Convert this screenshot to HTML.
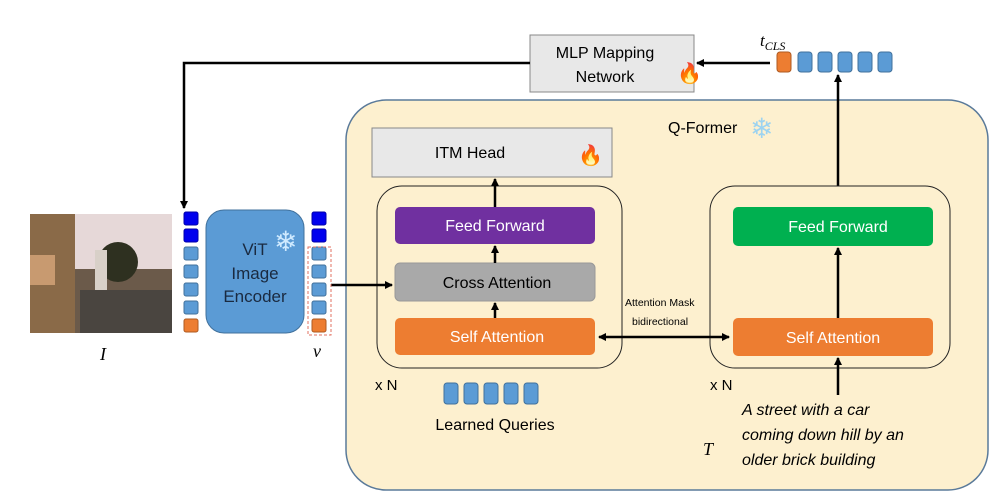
<!DOCTYPE html><html><head><style>body{margin:0;background:#fff}svg{display:block}</style></head><body>
<svg width="990" height="494" viewBox="0 0 990 494" xmlns="http://www.w3.org/2000/svg" font-family="Liberation Sans, sans-serif">
<defs><marker id="a" markerWidth="8" markerHeight="8" refX="7" refY="4" orient="auto" markerUnits="userSpaceOnUse"><path d="M0,0L8,4L0,8z" fill="#000"/></marker>
<marker id="b" markerWidth="8" markerHeight="8" refX="1" refY="4" orient="auto" markerUnits="userSpaceOnUse"><path d="M8,0L0,4L8,8z" fill="#000"/></marker></defs>
<rect x="346" y="100" width="642" height="390" rx="40" fill="#fdf0cf" stroke="#5a7a9a" stroke-width="1.5"/>
<rect x="530" y="35" width="164" height="57" fill="#e8e8e8" stroke="#888"/>
<text x="605" y="58" font-size="16" text-anchor="middle">MLP Mapping</text><text x="605" y="82" font-size="16" text-anchor="middle">Network</text>
<text x="677" y="80" font-size="20">🔥</text>
<polyline points="530,63 184,63 184,208" fill="none" stroke="#000" stroke-width="2.5" marker-end="url(#a)"/>
<line x1="770" y1="63" x2="697" y2="63" stroke="#000" stroke-width="2.5" marker-end="url(#a)"/>
<text x="760" y="46" font-size="17" font-style="italic" font-family="Liberation Serif,serif">t<tspan font-size="12" dy="4">CLS</tspan></text>
<g stroke="#41719c"><rect x="777" y="52" width="14" height="20" rx="3" fill="#ed7d31" stroke="#ae5a21"/><rect x="798" y="52" width="14" height="20" rx="3" fill="#5b9bd5"/><rect x="818" y="52" width="14" height="20" rx="3" fill="#5b9bd5"/><rect x="838" y="52" width="14" height="20" rx="3" fill="#5b9bd5"/><rect x="858" y="52" width="14" height="20" rx="3" fill="#5b9bd5"/><rect x="878" y="52" width="14" height="20" rx="3" fill="#5b9bd5"/></g>
<line x1="838" y1="186" x2="838" y2="75" stroke="#000" stroke-width="2.5" marker-end="url(#a)"/>
<text x="668" y="133" font-size="16">Q-Former</text><text x="750" y="138" font-size="28" fill="#9dd3f0">❄</text>
<rect x="372" y="128" width="240" height="49" fill="#e8e8e8" stroke="#888"/>
<text x="470" y="158" font-size="16" text-anchor="middle">ITM Head</text><text x="578" y="162" font-size="20">🔥</text>
<rect x="377" y="186" width="245" height="182" rx="25" fill="none" stroke="#222"/>
<rect x="710" y="186" width="240" height="182" rx="25" fill="none" stroke="#222"/>
<rect x="395" y="207" width="200" height="37" rx="5" fill="#7030a0"/><text x="495" y="231" font-size="16" text-anchor="middle" fill="#fff">Feed Forward</text>
<rect x="395" y="263" width="200" height="38" rx="5" fill="#a9a9a9" stroke="#999"/><text x="497" y="288" font-size="16" text-anchor="middle">Cross Attention</text>
<rect x="395" y="318" width="200" height="37" rx="5" fill="#ed7d31"/><text x="497" y="342" font-size="16" text-anchor="middle" fill="#fff">Self Attention</text>
<rect x="733" y="207" width="200" height="39" rx="5" fill="#00b050"/><text x="838" y="232" font-size="16" text-anchor="middle" fill="#fff">Feed Forward</text>
<rect x="733" y="318" width="200" height="38" rx="5" fill="#ed7d31"/><text x="833" y="343" font-size="16" text-anchor="middle" fill="#fff">Self Attention</text>
<g stroke="#000" stroke-width="2.5"><line x1="495" y1="318" x2="495" y2="303" marker-end="url(#a)"/><line x1="495" y1="263" x2="495" y2="246" marker-end="url(#a)"/><line x1="495" y1="207" x2="495" y2="179" marker-end="url(#a)"/><line x1="838" y1="318" x2="838" y2="248" marker-end="url(#a)"/><line x1="838" y1="395" x2="838" y2="358" marker-end="url(#a)"/><line x1="599" y1="337" x2="729" y2="337" marker-start="url(#b)" marker-end="url(#a)"/><line x1="331" y1="285" x2="392" y2="285" marker-end="url(#a)"/></g>
<text x="625" y="306" font-size="10.5">Attention Mask</text><text x="632" y="325" font-size="10.5">bidirectional</text>
<text x="375" y="390" font-size="15">x N</text><text x="710" y="390" font-size="15">x N</text>
<g fill="#5b9bd5" stroke="#41719c"><rect x="444" y="383" width="14" height="21" rx="3"/><rect x="464" y="383" width="14" height="21" rx="3"/><rect x="484" y="383" width="14" height="21" rx="3"/><rect x="504" y="383" width="14" height="21" rx="3"/><rect x="524" y="383" width="14" height="21" rx="3"/></g>
<text x="495" y="430" font-size="16" text-anchor="middle">Learned Queries</text>
<g font-size="16" font-style="italic"><text x="742" y="415">A street with a car</text><text x="742" y="440">coming down hill by an</text><text x="742" y="465">older brick building</text></g>
<text x="703" y="455" font-size="18" font-style="italic" font-family="Liberation Serif,serif">T</text>
<rect x="30" y="214" width="142" height="119" fill="#6b5a4a"/><rect x="70" y="214" width="102" height="55" fill="#e6d8d8"/><rect x="30" y="214" width="45" height="119" fill="#8a6a48"/><rect x="30" y="255" width="25" height="30" fill="#c89a70"/><circle cx="118" cy="262" r="20" fill="#2e3020"/><rect x="80" y="290" width="92" height="43" fill="#4a4540"/><rect x="95" y="250" width="12" height="40" fill="#d8d0c8"/>
<g stroke-width="1"><rect x="184" y="212" width="14" height="13" rx="2" fill="#0000ee" stroke="#0000aa"/><rect x="184" y="229" width="14" height="13" rx="2" fill="#0000ee" stroke="#0000aa"/><rect x="184" y="247" width="14" height="13" rx="2" fill="#5b9bd5" stroke="#41719c"/><rect x="184" y="265" width="14" height="13" rx="2" fill="#5b9bd5" stroke="#41719c"/><rect x="184" y="283" width="14" height="13" rx="2" fill="#5b9bd5" stroke="#41719c"/><rect x="184" y="301" width="14" height="13" rx="2" fill="#5b9bd5" stroke="#41719c"/><rect x="184" y="319" width="14" height="13" rx="2" fill="#ed7d31" stroke="#ae5a21"/>
<rect x="312" y="212" width="14" height="13" rx="2" fill="#0000ee" stroke="#0000aa"/><rect x="312" y="229" width="14" height="13" rx="2" fill="#0000ee" stroke="#0000aa"/><rect x="312" y="247" width="14" height="13" rx="2" fill="#5b9bd5" stroke="#41719c"/><rect x="312" y="265" width="14" height="13" rx="2" fill="#5b9bd5" stroke="#41719c"/><rect x="312" y="283" width="14" height="13" rx="2" fill="#5b9bd5" stroke="#41719c"/><rect x="312" y="301" width="14" height="13" rx="2" fill="#5b9bd5" stroke="#41719c"/><rect x="312" y="319" width="14" height="13" rx="2" fill="#ed7d31" stroke="#ae5a21"/></g>
<rect x="308" y="247" width="23" height="88" fill="none" stroke="#e07060" stroke-dasharray="3,2"/>
<rect x="206" y="210" width="98" height="123" rx="18" fill="#5b9bd5" stroke="#41719c"/>
<text x="255" y="255" font-size="17" text-anchor="middle" fill="#1a2a40">ViT</text><text x="255" y="279" font-size="17" text-anchor="middle" fill="#1a2a40">Image</text><text x="255" y="302" font-size="17" text-anchor="middle" fill="#1a2a40">Encoder</text>
<text x="274" y="251" font-size="28" fill="#cfeaff">❄</text>
<text x="100" y="360" font-size="18" font-style="italic" font-family="Liberation Serif,serif">I</text>
<text x="313" y="357" font-size="18" font-style="italic" font-family="Liberation Serif,serif">v</text>
</svg></body></html>
